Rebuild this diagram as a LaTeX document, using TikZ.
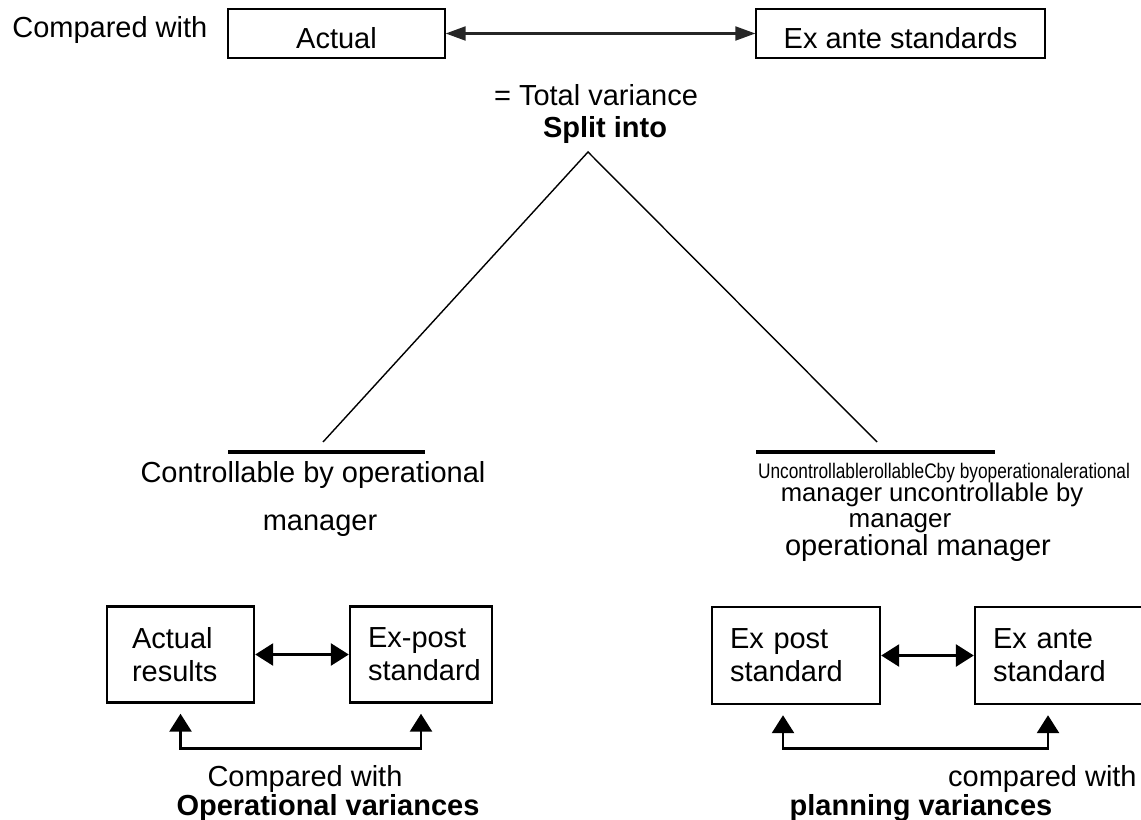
\documentclass[tikz,border=0pt]{standalone}
\usepackage{fontspec}
\setmainfont{Liberation Sans}
\newfontfamily\narrowfont[FakeStretch=0.82]{Liberation Sans}
\usepackage{tikz}
\usetikzlibrary{arrows.meta,positioning,calc}
\tikzset{
  tbox/.style={draw,line width=0.8pt,minimum height=0.98cm,inner sep=0pt,
               text height=0.62cm,text depth=0pt},            % top row: thin box
  vbox/.style={draw,line width=1.4pt,align=left,inner ysep=0pt,
               minimum height=1.92cm,font=\fontsize{16.5}{18.8}\selectfont}, % lower boxes
  txt/.style={anchor=base,inner sep=0pt},
  bar/.style={line width=2.3pt},
  leg/.style={line width=0.8pt},
  dbl/.style={{Triangle[length=0.4cm,width=0.28cm]}-{Triangle[length=0.4cm,width=0.28cm]},
              line width=1.2pt,black!85},
  ar/.style={{Triangle[length=0.36cm,width=0.44cm]}-{Triangle[length=0.36cm,width=0.44cm]},
             line width=1.6pt}
}

\begin{document}
\begin{tikzpicture}[x=0.02cm,y=-0.02cm,font=\fontsize{16.5}{20}\selectfont]
  \useasboundingbox (0,0) rectangle (1141,820);
  % top row
  \node[txt,anchor=base west] (cmp) at (12,38) {Compared with};
  \node[tbox,minimum width=4.34cm] (act) at (336.5,33.5) {Actual};
  \node[tbox,minimum width=5.78cm] (exa) at (900.5,33.5) {Ex ante standards};
  \draw[dbl] (act) -- (exa);
  \node[txt] (tot) at (596,106) {= Total variance};
  \node[txt] (spl) at (605,138) {\textbf{Split into}};
  % split
  \coordinate (apex) at (588,152);
  \coordinate (lfoot) at (323,442);
  \coordinate (rfoot) at (877,442);
  \draw[leg] (lfoot) -- (apex) -- (rfoot);
  \draw[bar] (228,452) -- (425,452);
  \draw[bar] (756,452) -- (995,452);
  \node[txt] (ctl) at (313,482) {Controllable by operational};
  \node[txt] (ctm) at (320,530) {manager};
  \node[txt,font=\narrowfont\fontsize{12}{12}\selectfont] (unc1) at (944,478)
    {UncontrollablerollableCby byoperationalerational};
  \node[txt,font=\fontsize{14.6}{14}\selectfont] (unc2) at (932,501) {manager uncontrollable by};
  \node[txt,font=\fontsize{14.8}{14}\selectfont] (unc3) at (900,527) {manager};
  \node[txt] (unc4) at (918,555) {operational manager};
  % operational side
  \node[vbox,text width=1.94cm,inner xsep=0.5cm] (ares) at (180.5,654.5) {Actual\\results};
  \node[vbox,text width=2.12cm,inner xsep=0.36cm] (xpst) at (421,654.5) {Ex-post\\standard};
  \draw[ar] (ares) -- (xpst);
  \draw[ar,shorten <=0.2cm,shorten >=0.2cm] (ares.south) -- ++(0,45) -| (xpst.south);
  \node[txt] (cmpl) at (305,786) {Compared with};
  \node[txt] (opv) at (328,815) {\textbf{Operational variances}};
  % planning side
  \node[vbox,text width=2.64cm,inner xsep=0.36cm,minimum height=1.94cm] (xpst2) at (796,655.5) {Ex post\\standard};
  \node[vbox,text width=2.98cm,inner xsep=0.36cm,minimum height=1.94cm] (xant) at (1067.5,655.5) {Ex ante\\standard};
  \draw[ar] (xpst2) -- (xant);
  \draw[ar,shorten <=0.2cm,shorten >=0.2cm] ([xshift=-0.26cm]xpst2.south) -- ++(0,43)
    -| ([xshift=-0.39cm]xant.south);
  \node[txt,anchor=base east] (cmpr) at (1137,786) {compared with};
  \node[txt] (plv) at (921,815) {\textbf{planning variances}};
\end{tikzpicture}
\end{document}
